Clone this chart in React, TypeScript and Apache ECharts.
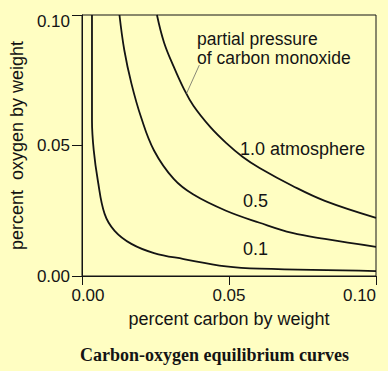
import React, { useEffect, useRef } from "react";
import * as echarts from "echarts";

// Tick labels
const X_TICKS = ["0.00", "0.05", "0.10"];
const Y_TICKS = ["0.00", "0.05", "0.10"];

// Equilibrium curves [percent carbon, percent oxygen]
const CURVE_1_0 = [
  [0.0255, 0.1], [0.0279, 0.0895], [0.0312, 0.0802], [0.0346, 0.0718],
  [0.0379, 0.0652], [0.0436, 0.0571], [0.049, 0.051], [0.0547, 0.0456],
  [0.0604, 0.0414], [0.0715, 0.0346], [0.0826, 0.0288], [0.1, 0.0223],
];
const CURVE_0_5 = [
  [0.01275, 0.1], [0.0144, 0.0865], [0.0168, 0.0738], [0.0201, 0.0608],
  [0.0245, 0.0481], [0.0312, 0.0372], [0.0379, 0.0312], [0.049, 0.025],
  [0.0604, 0.0204], [0.0715, 0.0165], [0.0826, 0.0142], [0.1, 0.0112],
];
const CURVE_0_1 = [
  [0.0034, 0.1], [0.0034, 0.0596], [0.004, 0.0481], [0.0054, 0.0365],
  [0.0077, 0.0238], [0.0111, 0.0173], [0.0168, 0.0123], [0.0245, 0.0088],
  [0.0346, 0.0065], [0.049, 0.0037], [0.0604, 0.0028], [0.1, 0.0019],
];
// Leader from the note to the 1.0 curve
const LEADER = [[0.0399, 0.0808], [0.0355, 0.0698]];

const SANS = "'Liberation Sans', Arial, Helvetica, sans-serif";
const SERIF = "'Liberation Serif', 'Times New Roman', serif";
const INK = "#141414";

export default function App() {
  const ref = useRef<HTMLDivElement>(null);

  useEffect(() => {
    if (!ref.current) return;
    const chart = echarts.init(ref.current, null, { renderer: "svg" });
    const lineSeries = (name: string, data: number[][]) => ({
      name,
      type: "line",
      data,
      smooth: 0.4,
      showSymbol: false,
      symbol: "none",
      clip: true,
      lineStyle: { color: INK, width: 1.8 },
      silent: true,
    });
    chart.setOption({
      animation: false,
      backgroundColor: "#FFFEC2",
      grid: {
        left: 77,
        right: 12,
        top: 15,
        bottom: 95,
        show: true,
        borderColor: INK,
        borderWidth: 1,
        backgroundColor: "transparent",
      },
      xAxis: {
        type: "value",
        min: 0,
        max: 0.1,
        interval: 0.05,
        name: "percent carbon by weight",
        nameLocation: "middle",
        nameGap: 34,
        nameTextStyle: { fontFamily: SANS, fontSize: 18, color: INK },
        axisLine: { show: true, onZero: false, lineStyle: { color: INK, width: 1 } },
        axisTick: { show: true, inside: false, length: 9, lineStyle: { color: INK } },
        splitLine: { show: false },
        axisLabel: {
          margin: 11,
          fontFamily: SANS,
          fontSize: 17,
          color: INK,
          showMinLabel: true,
          showMaxLabel: true,
          formatter: (_v: number, i: number) =>
            i === 0 ? `{first|${X_TICKS[0]}}` : i === X_TICKS.length - 1 ? `{last|${X_TICKS[i]}}` : X_TICKS[i],
          rich: {
            first: { fontFamily: SANS, fontSize: 17, color: INK, padding: [0, 0, 0, 12] },
            last: { fontFamily: SANS, fontSize: 17, color: INK, padding: [0, 33, 0, 0] },
          },
        },
      },
      yAxis: {
        type: "value",
        min: 0,
        max: 0.1,
        interval: 0.05,
        name: "percent\u00a0 oxygen by weight",
        nameLocation: "middle",
        nameGap: 43,
        nameRotate: 90,
        nameTextStyle: { fontFamily: SANS, fontSize: 18, color: INK },
        axisLine: { show: true, onZero: false, lineStyle: { color: INK, width: 1 } },
        axisTick: { show: true, inside: false, length: 10, lineStyle: { color: INK } },
        splitLine: { show: false },
        axisLabel: {
          margin: 12,
          fontFamily: SANS,
          fontSize: 17,
          color: INK,
          showMinLabel: true,
          showMaxLabel: true,
          formatter: (_v: number, i: number) =>
            i === Y_TICKS.length - 1 ? `{top|${Y_TICKS[i]}}` : Y_TICKS[i],
          rich: {
            top: { fontFamily: SANS, fontSize: 17, color: INK, padding: [12, 0, 0, 0] },
          },
        },
      },
      series: [
        {
          ...lineSeries("1.0 atmosphere", CURVE_1_0),
          markLine: {
            silent: true,
            symbol: ["none", "none"],
            label: { show: false },
            lineStyle: { color: "#555", width: 0.7, type: "solid" },
            data: [[{ coord: LEADER[0] }, { coord: LEADER[1] }]],
          },
        },
        lineSeries("0.5", CURVE_0_5),
        lineSeries("0.1", CURVE_0_1),
      ],
      graphic: [
        {
          type: "text",
          x: 197,
          y: 39,
          style: { text: "partial pressure", font: `17.5px ${SANS}`, fill: INK, verticalAlign: "middle", align: "left" },
        },
        {
          type: "text",
          x: 197,
          y: 58,
          style: { text: "of carbon monoxide", font: `17.5px ${SANS}`, fill: INK, verticalAlign: "middle", align: "left" },
        },
        {
          type: "text",
          x: 240,
          y: 149,
          style: { text: "1.0 atmosphere", font: `18px ${SANS}`, fill: INK, verticalAlign: "middle", align: "left" },
        },
        {
          type: "text",
          x: 243,
          y: 201,
          style: { text: "0.5", font: `18px ${SANS}`, fill: INK, verticalAlign: "middle", align: "left" },
        },
        {
          type: "text",
          x: 243,
          y: 249,
          style: { text: "0.1", font: `18px ${SANS}`, fill: INK, verticalAlign: "middle", align: "left" },
        },
        {
          type: "text",
          x: 80,
          y: 355,
          style: {
            text: "Carbon-oxygen equilibrium curves",
            font: `bold 18px ${SERIF}`,
            fill: INK,
            verticalAlign: "middle",
            align: "left",
          },
        },
      ],
    });
    return () => chart.dispose();
  }, []);

  return (
    <div
      ref={ref}
      style={{ position: "fixed", left: 0, top: 0, width: 388, height: 371 }}
    />
  );
}
